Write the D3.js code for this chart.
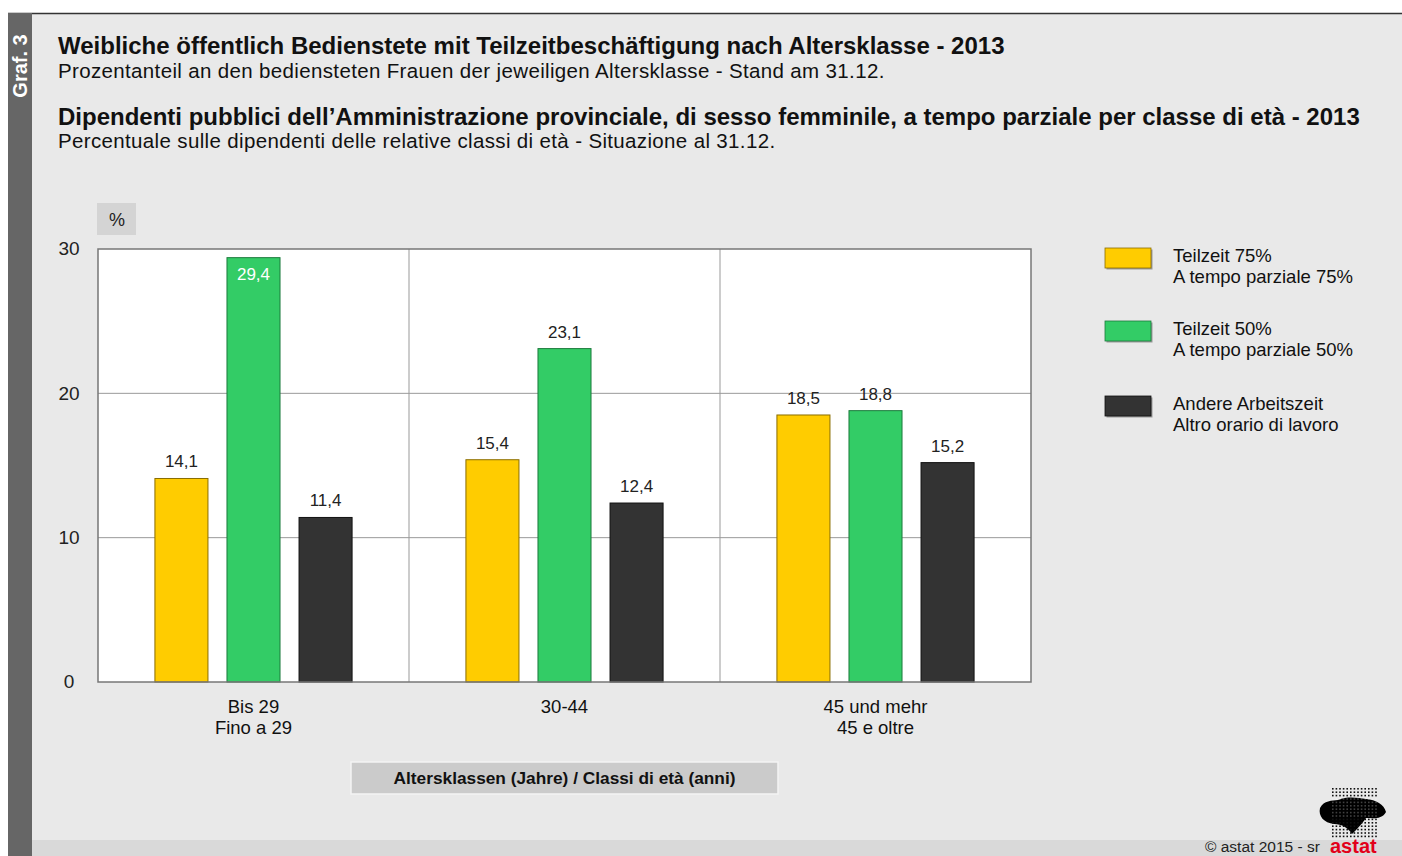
<!DOCTYPE html>
<html>
<head>
<meta charset="utf-8">
<script src="https://cdn.jsdelivr.net/npm/d3@7"></script>
<style>
  body { margin: 0; background: #fff; }
  svg { display: block; font-family: Arial, "Liberation Sans", sans-serif; }
</style>
</head>
<body>
<div id="chart"></div>
<script>
// age classes and series
const groups = ["Bis 29|Fino a 29", "30-44", "45 und mehr|45 e oltre"];
const seriesNames = ["Teilzeit 75%|A tempo parziale 75%", "Teilzeit 50%|A tempo parziale 50%", "Andere Arbeitszeit|Altro orario di lavoro"];
const seriesColors = ["#ffcc00", "#33cc66", "#333333"];
const seriesStrokes = ["#8a6d00", "#1c7a3c", "#111111"];
const teilzeit75 = [14.1, 15.4, 18.5];
const teilzeit50 = [29.4, 23.1, 18.8];
const andere = [11.4, 12.4, 15.2];
const yTicks = [0, 10, 20, 30];

const width = 1402, height = 856;
const svg = d3.select("#chart").append("svg")
  .attr("width", width).attr("height", height);

// frame + background
svg.append("rect").attr("x", 8).attr("y", 13).attr("width", width - 8).attr("height", height - 13)
  .attr("fill", "#e9e9e9");
svg.append("line").attr("x1", 8).attr("x2", width).attr("y1", 13.5).attr("y2", 13.5)
  .attr("stroke", "#333").attr("stroke-width", 1.5);
svg.append("rect").attr("x", 32).attr("y", 840).attr("width", width - 32).attr("height", 16)
  .attr("fill", "#d9d9d9");
svg.append("rect").attr("x", 8).attr("y", 13).attr("width", 24).attr("height", height - 13)
  .attr("fill", "#666");
svg.append("text")
  .attr("transform", "translate(27,66) rotate(-90)")
  .attr("text-anchor", "middle")
  .attr("fill", "#fff").attr("font-weight", "bold").attr("font-size", 20)
  .text("Graf. 3");

// titles
const titles = [
  { t: "Weibliche öffentlich Bedienstete mit Teilzeitbeschäftigung nach Altersklasse - 2013", y: 54, b: true },
  { t: "Prozentanteil an den bediensteten Frauen der jeweiligen Altersklasse - Stand am 31.12.", y: 78, b: false },
  { t: "Dipendenti pubblici dell’Amministrazione provinciale, di sesso femminile, a tempo parziale per classe di età - 2013", y: 125, b: true },
  { t: "Percentuale sulle dipendenti delle relative classi di età - Situazione al 31.12.", y: 148, b: false }
];
svg.selectAll(".title").data(titles).enter().append("text")
  .attr("class", "title")
  .attr("x", 58).attr("y", d => d.y)
  .attr("font-size", d => d.b ? 24 : 20.5)
  .attr("letter-spacing", d => d.b ? 0 : 0.35)
  .attr("font-weight", d => d.b ? "bold" : "normal")
  .attr("fill", "#111")
  .text(d => d.t);

// plot area
const plot = { x0: 98, x1: 1031, y0: 249, y1: 682 };
const x0 = d3.scaleBand().domain(groups).range([plot.x0, plot.x1]);
const x1 = d3.scaleBand().domain([0, 1, 2]).range([0, x0.bandwidth()])
  .paddingInner(0.264).paddingOuter(0.79);
const y = d3.scaleLinear().domain([0, 30]).range([plot.y1, plot.y0]);

svg.append("rect").attr("x", plot.x0).attr("y", plot.y0)
  .attr("width", plot.x1 - plot.x0).attr("height", plot.y1 - plot.y0)
  .attr("fill", "#fff");

// gridlines
svg.selectAll(".hgrid").data(yTicks.slice(1, 3)).enter().append("line")
  .attr("x1", plot.x0).attr("x2", plot.x1)
  .attr("y1", d => y(d)).attr("y2", d => y(d))
  .attr("stroke", "#999").attr("stroke-width", 1);
svg.selectAll(".vgrid").data(groups.slice(1)).enter().append("line")
  .attr("x1", d => x0(d)).attr("x2", d => x0(d))
  .attr("y1", plot.y0).attr("y2", plot.y1)
  .attr("stroke", "#999").attr("stroke-width", 1);

// bars
const rows = groups.map((g, i) => ({ g: g, vals: [teilzeit75[i], teilzeit50[i], andere[i]] }));
const gsel = svg.selectAll(".grp").data(rows).enter().append("g")
  .attr("transform", d => "translate(" + x0(d.g) + ",0)");
const bars = gsel.selectAll("g").data(d => d.vals.map((v, k) => ({ v: v, k: k }))).enter();
bars.append("rect")
  .attr("x", d => x1(d.k)).attr("y", d => y(d.v))
  .attr("width", x1.bandwidth()).attr("height", d => y(0) - y(d.v))
  .attr("fill", d => seriesColors[d.k])
  .attr("stroke", d => seriesStrokes[d.k]).attr("stroke-width", 1);
bars.append("text")
  .attr("x", d => x1(d.k) + x1.bandwidth() / 2)
  .attr("y", d => d.v > 28 ? y(d.v) + 22 : y(d.v) - 11)
  .attr("text-anchor", "middle").attr("font-size", 17)
  .attr("fill", d => d.v > 28 ? "#fff" : "#222")
  .text(d => d3.format(".1f")(d.v).replace(".", ","));

// plot border
svg.append("rect").attr("x", plot.x0).attr("y", plot.y0)
  .attr("width", plot.x1 - plot.x0).attr("height", plot.y1 - plot.y0)
  .attr("fill", "none").attr("stroke", "#777").attr("stroke-width", 1.5);

// y axis labels
const yAxis = svg.append("g").attr("transform", "translate(80,0)")
  .call(d3.axisLeft(y).tickValues(yTicks).tickSize(0).tickPadding(0));
yAxis.select(".domain").remove();
yAxis.selectAll("text").attr("font-size", 19).attr("fill", "#222")
  .attr("font-family", "Arial, 'Liberation Sans', sans-serif")
  .attr("text-anchor", "middle").attr("x", -11).attr("dy", "0.3em");

// % box
svg.append("rect").attr("x", 97).attr("y", 203).attr("width", 39).attr("height", 32).attr("fill", "#d4d4d4");
svg.append("text").attr("x", 117).attr("y", 226).attr("text-anchor", "middle")
  .attr("font-size", 18).attr("fill", "#222").text("%");

// x labels
const xl = svg.selectAll(".xl").data(groups).enter().append("text")
  .attr("text-anchor", "middle").attr("font-size", 18.5).attr("fill", "#111")
  .attr("x", d => x0(d) + x0.bandwidth() / 2).attr("y", 713);
xl.selectAll("tspan").data(d => d.split("|")).enter().append("tspan")
  .attr("x", function() { return d3.select(this.parentNode).attr("x"); })
  .attr("dy", (d, i) => i === 0 ? 0 : 21)
  .text(d => d);

// axis title box
svg.append("rect").attr("x", 351).attr("y", 762).attr("width", 427).attr("height", 32)
  .attr("fill", "#cbcbcb").attr("stroke", "#f4f4f4").attr("stroke-width", 1.5);
svg.append("text").attr("x", 564.5).attr("y", 784).attr("text-anchor", "middle")
  .attr("font-size", 17.3).attr("font-weight", "bold").attr("fill", "#111")
  .text("Altersklassen (Jahre) / Classi di età (anni)");

// legend
const legY = [248, 321, 396];
const leg = svg.selectAll(".leg").data(seriesNames).enter().append("g")
  .attr("transform", (d, i) => "translate(1105," + legY[i] + ")");
leg.append("rect").attr("x", 1.5).attr("y", 1.5).attr("width", 46).attr("height", 20).attr("fill", "#999");
leg.append("rect").attr("width", 46).attr("height", 20)
  .attr("fill", (d, i) => seriesColors[i]).attr("stroke", (d, i) => seriesStrokes[i]).attr("stroke-width", 0.8);
const lt = leg.append("text").attr("x", 68).attr("y", 14).attr("font-size", 18.5).attr("fill", "#111");
lt.selectAll("tspan").data(d => d.split("|")).enter().append("tspan")
  .attr("x", 68).attr("dy", (d, i) => i === 0 ? 0 : 21).text(d => d);

// footer
svg.append("text").attr("x", 1205).attr("y", 852).attr("font-size", 15.5).attr("fill", "#222")
  .text("© astat 2015 - sr");
svg.append("text").attr("x", 1330).attr("y", 853).attr("font-size", 20).attr("font-weight", "bold")
  .attr("fill", "#e2001a").text("astat");

// logo (dotted map)
const logo = svg.append("g").attr("transform", "translate(1318,788)");
logo.append("path")
  .attr("d", "M2,20 C6,12 14,13 20,12 C30,8 40,10 48,11 C58,12 66,16 68,24 C64,32 54,30 48,30 C44,36 38,42 34,46 C30,40 24,36 16,36 C6,35 0,28 2,20 Z")
  .attr("fill", "#000");
const dots = [];
for (let r = 0; r < 15; r++) for (let c = 0; c < 13; c++) dots.push([c, r]);
logo.selectAll(".dot").data(dots).enter().append("rect")
  .attr("x", d => 14 + d[0] * 3.6).attr("y", d => d[1] * 3.4)
  .attr("width", 1.6).attr("height", 1.6)
  .attr("fill", d => (d[1] > 2 && d[1] < 9) ? "#fff" : "#111")
  .attr("opacity", d => (d[1] > 2 && d[1] < 9) ? 0.25 : 1);
</script>
</body>
</html>
